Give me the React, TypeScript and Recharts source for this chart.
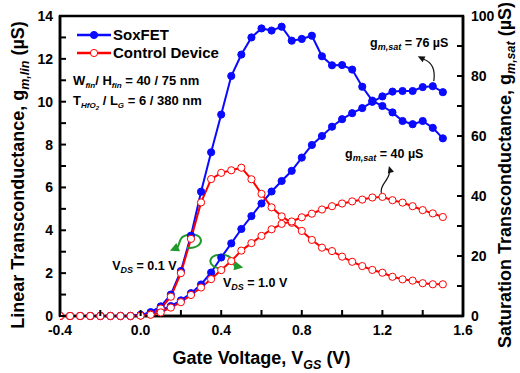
import React from 'react';
import {
  ComposedChart,
  Line,
  XAxis,
  YAxis,
  ReferenceArea,
  ReferenceDot,
  Legend,
  Label,
} from 'recharts';

const FONT = '"Liberation Sans", Arial, Helvetica, sans-serif';
const BLUE = '#0a0aff';
const RED = '#ff0000';
const GREEN = '#1f9a2a';

// Gate voltage (V)
const vgs = [
  -0.4, -0.35, -0.3, -0.25, -0.2, -0.15, -0.1, -0.05, 0, 0.05, 0.1, 0.15, 0.2,
  0.25, 0.3, 0.35, 0.4, 0.45, 0.5, 0.55, 0.6, 0.65, 0.7, 0.75, 0.8, 0.85, 0.9,
  0.95, 1.0, 1.05, 1.1, 1.15, 1.2, 1.25, 1.3, 1.35, 1.4, 1.45, 1.5,
];

// SoxFET, linear gm (uS), VDS = 0.1 V
const soxfetLin = [
  0, 0, 0, 0, 0, 0, 0, 0, 0.05, 0.18, 0.45, 1.0, 2.1, 3.75, 5.8, 7.64, 9.4,
  11.2, 12.2, 13.0, 13.42, 13.32, 13.5, 12.85, 12.93, 13.08, 12.12, 11.7, 11.71,
  11.5, 10.7, 10.05, 9.8, 9.5, 9.1, 8.95, 9.1, 8.78, 8.29,
];

// SoxFET, saturation gm (uS), VDS = 1.0 V
const soxfetSat = [
  0, 0, 0, 0, 0, 0, 0, 0, 0.3, 1.0, 2.0, 3.3, 5.2, 7.6, 10.5, 14.5, 19.5, 24.2,
  29.0, 33.3, 37.5, 41.5, 45.0, 48.4, 52.8, 57.0, 60.0, 63.1, 65.6, 67.6, 69.3,
  71.4, 73.2, 74.8, 75.0, 75.0, 76.3, 76.6, 74.6,
];

// Control device, linear gm (uS)
const controlLin = [
  0, 0, 0, 0, 0, 0, 0, 0, 0.02, 0.08, 0.35, 0.9, 2.0, 3.6, 5.3, 6.39, 6.68, 6.8,
  6.92, 6.38, 5.7, 5.07, 4.65, 4.35, 3.97, 3.55, 3.19, 3.03, 2.77, 2.53, 2.33,
  2.15, 2.02, 1.83, 1.71, 1.65, 1.53, 1.48, 1.48,
];

// Control device, saturation gm (uS)
const controlSat = [
  0, 0, 0, 0, 0, 0, 0, 0, 0.1, 0.4, 1.2, 2.8, 4.6, 7.0, 9.5, 12.3, 15.3, 18.3,
  21.8, 24.3, 26.7, 28.9, 30.7, 31.5, 32.9, 34.1, 35.5, 36.6, 37.5, 38.2, 38.8,
  39.5, 39.7, 38.6, 37.8, 36.6, 35.3, 34.2, 33.0,
];

const legendOrder = ['SoxFET', 'Control Device'];

const xTicks = [-0.4, -0.2, 0, 0.2, 0.4, 0.6, 0.8, 1.0, 1.2, 1.4, 1.6];
const xTickLabels = ['-0.4', '', '0.0', '', '0.4', '', '0.8', '', '1.2', '', '1.6'];
const leftTicks = [0, 1, 2, 3, 4, 5, 6, 7, 8, 9, 10, 11, 12, 13, 14];
const leftTickLabels = ['0', '', '2', '', '4', '', '6', '', '8', '', '10', '', '12', '', '14'];
const rightTicks = [0, 10, 20, 30, 40, 50, 60, 70, 80, 90, 100];
const rightTickLabels = ['0', '', '20', '', '40', '', '60', '', '80', '', '100'];

const data = vgs.map((v, i) => ({
  v,
  soxfetLin: soxfetLin[i],
  soxfetSat: soxfetSat[i],
  controlLin: controlLin[i],
  controlSat: controlSat[i],
}));

const txt = {
  fontFamily: FONT,
  fontWeight: 700 as const,
  fill: '#000',
};

const XTick = (props: any) => {
  const { x, y, payload } = props;
  const idx = xTicks.findIndex((t) => Math.abs(t - payload.value) < 1e-6);
  const label = idx >= 0 ? xTickLabels[idx] : '';
  return (
    <g>
      <line x1={x} x2={x} y1={y} y2={y - 6} stroke="#000" strokeWidth={2} />
      {label ? (
        <text x={x} y={y + 19} textAnchor="middle" fontSize={14} {...txt}>
          {label}
        </text>
      ) : null}
    </g>
  );
};

const LeftTick = (props: any) => {
  const { x, y, payload } = props;
  const idx = leftTicks.indexOf(payload.value);
  const label = idx >= 0 ? leftTickLabels[idx] : '';
  return (
    <g>
      <line x1={x} x2={x + 6} y1={y} y2={y} stroke="#000" strokeWidth={2} />
      {label ? (
        <text x={x - 7} y={y + 5} textAnchor="end" fontSize={14} {...txt}>
          {label}
        </text>
      ) : null}
    </g>
  );
};

const RightTick = (props: any) => {
  const { x, y, payload } = props;
  const idx = rightTicks.indexOf(payload.value);
  const label = idx >= 0 ? rightTickLabels[idx] : '';
  return (
    <g>
      <line x1={x} x2={x - 6} y1={y} y2={y} stroke="#000" strokeWidth={2} />
      {label ? (
        <text x={x + 8} y={y + 5} textAnchor="start" fontSize={14} {...txt}>
          {label}
        </text>
      ) : null}
    </g>
  );
};

const head = (tx: number, ty: number, dx: number, dy: number, len = 7, w = 3.2) => {
  const L = Math.hypot(dx, dy);
  const ux = dx / L;
  const uy = dy / L;
  const bx = tx - ux * len;
  const by = ty - uy * len;
  return `${tx},${ty} ${bx - uy * w},${by + ux * w} ${bx + uy * w},${by - ux * w}`;
};

const renderLegend = (props: any) => {
  const items = (props.payload || [])
    .filter((e: any) => legendOrder.indexOf(e.value) >= 0)
    .sort((a: any, b: any) => legendOrder.indexOf(a.value) - legendOrder.indexOf(b.value));
  return (
    <div style={{ fontFamily: FONT, fontWeight: 700, fontSize: 15, color: '#000' }}>
      {items.map((e: any, i: number) => {
        const open = e.value === 'Control Device';
        return (
          <div key={i} style={{ display: 'flex', alignItems: 'center', height: 17.7 }}>
            <svg width={34} height={12} style={{ display: 'block' }}>
              <line x1={0} y1={6} x2={34} y2={6} stroke={e.color} strokeWidth={2.5} />
              <circle
                cx={17}
                cy={6}
                r={3.6}
                fill={open ? '#fff' : e.color}
                stroke={e.color}
                strokeWidth={1}
              />
            </svg>
            <span style={{ marginLeft: 2, lineHeight: '17px' }}>{e.value}</span>
          </div>
        );
      })}
    </div>
  );
};

const sub = { fontStyle: 'italic' as const };

export default function App() {
  return (
    <div style={{ position: 'absolute', left: 0, top: 0, background: '#fff' }}>
      <ComposedChart
        width={520}
        height={373}
        data={data}
        margin={{ top: 16, right: 0, bottom: 0, left: 0 }}
      >
        <XAxis
          dataKey="v"
          type="number"
          domain={[-0.4, 1.6]}
          ticks={xTicks}
          interval={0}
          height={57}
          tickSize={0}
          tickMargin={0}
          tickLine={false}
          tick={<XTick />}
          axisLine={{ stroke: '#000', strokeWidth: 2.5 }}
          allowDataOverflow
        >
          <Label
            content={(p: any) => {
              const vb = p.viewBox || { x: 60, y: 316, width: 403, height: 57 };
              return (
                <text
                  x={vb.x + vb.width / 2}
                  y={vb.y + 48}
                  textAnchor="middle"
                  fontSize={18}
                  {...txt}
                >
                  <tspan>Gate Voltage, V</tspan>
                  <tspan dy={5} fontSize={12.5} {...sub}>
                    GS
                  </tspan>
                  <tspan dy={-5}> (V)</tspan>
                </text>
              );
            }}
          />
        </XAxis>
        <YAxis
          yAxisId="left"
          orientation="left"
          type="number"
          domain={[0, 14]}
          ticks={leftTicks}
          interval={0}
          width={60}
          tickSize={0}
          tickMargin={0}
          tickLine={false}
          tick={<LeftTick />}
          axisLine={{ stroke: '#000', strokeWidth: 2.5 }}
        >
          <Label
            content={(p: any) => {
              const vb = p.viewBox || { x: 0, y: 16, width: 60, height: 300 };
              const cx = vb.x + 24;
              const cy = vb.y + vb.height / 2 + 9;
              return (
                <text
                  transform={`translate(${cx}, ${cy}) rotate(-90)`}
                  textAnchor="middle"
                  fontSize={18}
                  {...txt}
                >
                  <tspan>Linear Transconductance, g</tspan>
                  <tspan dy={5} fontSize={12.5} {...sub}>
                    m,lin
                  </tspan>
                  <tspan dy={-5}> (µS)</tspan>
                </text>
              );
            }}
          />
        </YAxis>
        <YAxis
          yAxisId="right"
          orientation="right"
          type="number"
          domain={[0, 100]}
          ticks={rightTicks}
          interval={0}
          width={57}
          tickSize={0}
          tickMargin={0}
          tickLine={false}
          tick={<RightTick />}
          axisLine={{ stroke: '#000', strokeWidth: 2.5 }}
        >
          <Label
            content={(p: any) => {
              const vb = p.viewBox || { x: 463, y: 16, width: 57, height: 300 };
              const cx = vb.x + 48;
              const cy = vb.y + vb.height / 2 + 9;
              return (
                <text
                  transform={`translate(${cx}, ${cy}) rotate(-90)`}
                  textAnchor="middle"
                  fontSize={18}
                  {...txt}
                >
                  <tspan>Saturation Transconductance, g</tspan>
                  <tspan dy={4} fontSize={12.5} {...sub}>
                    m,sat
                  </tspan>
                  <tspan dy={-4}> (µS)</tspan>
                </text>
              );
            }}
          />
        </YAxis>

        <ReferenceArea
          yAxisId="left"
          x1={-0.4}
          x2={1.6}
          y1={0}
          y2={14}
          fill="none"
          fillOpacity={0}
          stroke="#000"
          strokeWidth={2.5}
          ifOverflow="visible"
        />

        <Line
          yAxisId="left"
          dataKey="soxfetLin"
          name="SoxFET"
          stroke={BLUE}
          strokeWidth={2}
          dot={{ r: 3.6, fill: BLUE, stroke: BLUE, strokeWidth: 1 }}
          activeDot={false}
          isAnimationActive={false}
        />
        <Line
          yAxisId="right"
          dataKey="soxfetSat"
          name="SoxFET (sat)"
          legendType="none"
          stroke={BLUE}
          strokeWidth={2}
          dot={{ r: 3.6, fill: BLUE, stroke: BLUE, strokeWidth: 1 }}
          activeDot={false}
          isAnimationActive={false}
        />
        <Line
          yAxisId="left"
          dataKey="controlLin"
          name="Control Device"
          stroke={RED}
          strokeWidth={2}
          dot={{ r: 3.6, fill: '#fff', stroke: RED, strokeWidth: 1 }}
          activeDot={false}
          isAnimationActive={false}
        />
        <Line
          yAxisId="right"
          dataKey="controlSat"
          name="Control Device (sat)"
          legendType="none"
          stroke={RED}
          strokeWidth={2}
          dot={{ r: 3.6, fill: '#fff', stroke: RED, strokeWidth: 1 }}
          activeDot={false}
          isAnimationActive={false}
        />

        {/* Device parameter text */}
        <ReferenceDot
          yAxisId="left"
          x={-0.335}
          y={10.76}
          ifOverflow="visible"
          shape={(p: any) => (
            <text x={p.cx} y={p.cy} fontSize={13} {...txt}>
              <tspan>W</tspan>
              <tspan dy={3} fontSize={8} {...sub}>fin</tspan>
              <tspan dy={-3}>/ H</tspan>
              <tspan dy={3} fontSize={8} {...sub}>fin</tspan>
              <tspan dy={-3}> = 40 / 75 nm</tspan>
            </text>
          )}
        />
        <ReferenceDot
          yAxisId="left"
          x={-0.335}
          y={9.83}
          ifOverflow="visible"
          shape={(p: any) => (
            <text x={p.cx} y={p.cy} fontSize={13} {...txt}>
              <tspan>T</tspan>
              <tspan dy={3} fontSize={8} {...sub}>HfO</tspan>
              <tspan dy={2} fontSize={6} {...sub}>2</tspan>
              <tspan dy={-5}> / L</tspan>
              <tspan dy={3} fontSize={8} {...sub}>G</tspan>
              <tspan dy={-3}> = 6 / 380 nm</tspan>
            </text>
          )}
        />

        {/* gm,sat = 76 uS label + arrow */}
        <ReferenceDot
          yAxisId="right"
          x={1.139}
          y={89.7}
          ifOverflow="visible"
          shape={(p: any) => (
            <text x={p.cx} y={p.cy} fontSize={12.5} {...txt}>
              <tspan>g</tspan>
              <tspan dy={3} fontSize={9} {...sub}>m,sat</tspan>
              <tspan dy={-3}> = 76 µS</tspan>
            </text>
          )}
        />
        <ReferenceDot
          yAxisId="right"
          x={1.45}
          y={76.6}
          ifOverflow="visible"
          shape={(p: any) => {
            const { cx, cy } = p;
            return (
              <g>
                <path
                  d={`M ${cx + 1} ${cy - 5} C ${cx + 3} ${cy - 18}, ${cx - 1} ${cy - 24}, ${cx - 9} ${cy - 27}`}
                  fill="none"
                  stroke="#111"
                  strokeWidth={1.2}
                />
                <polygon points={head(cx - 15, cy - 30, -7, -3.5)} fill="#111" />
              </g>
            );
          }}
        />

        {/* gm,sat = 40 uS label + arrow */}
        <ReferenceDot
          yAxisId="right"
          x={1.015}
          y={52.6}
          ifOverflow="visible"
          shape={(p: any) => (
            <text x={p.cx} y={p.cy} fontSize={12.5} {...txt}>
              <tspan>g</tspan>
              <tspan dy={3} fontSize={9} {...sub}>m,sat</tspan>
              <tspan dy={-3}> = 40 µS</tspan>
            </text>
          )}
        />
        <ReferenceDot
          yAxisId="right"
          x={1.2}
          y={39.7}
          ifOverflow="visible"
          shape={(p: any) => {
            const { cx, cy } = p;
            return (
              <g>
                <path
                  d={`M ${cx - 1} ${cy - 4} C ${cx - 3} ${cy - 12}, ${cx + 6} ${cy - 16}, ${cx + 7} ${cy - 24}`}
                  fill="none"
                  stroke="#111"
                  strokeWidth={1.2}
                />
                <polygon points={head(cx + 6.5, cy - 31, -0.3, -1)} fill="#111" />
              </g>
            );
          }}
        />

        {/* VDS labels */}
        <ReferenceDot
          yAxisId="left"
          x={-0.141}
          y={2.15}
          ifOverflow="visible"
          shape={(p: any) => (
            <text x={p.cx} y={p.cy} fontSize={12.5} {...txt}>
              <tspan>V</tspan>
              <tspan dy={3} fontSize={9} {...sub}>DS</tspan>
              <tspan dy={-3}> = 0.1 V</tspan>
            </text>
          )}
        />
        <ReferenceDot
          yAxisId="left"
          x={0.409}
          y={1.35}
          ifOverflow="visible"
          shape={(p: any) => (
            <text x={p.cx} y={p.cy} fontSize={12.5} {...txt}>
              <tspan>V</tspan>
              <tspan dy={3} fontSize={9} {...sub}>DS</tspan>
              <tspan dy={-3}> = 1.0 V</tspan>
            </text>
          )}
        />

        {/* Green circular arrows */}
        <ReferenceDot
          yAxisId="left"
          x={0.25}
          y={3.6}
          ifOverflow="visible"
          shape={(p: any) => {
            const { cx, cy } = p;
            return (
              <g>
                <path
                  d={`M ${cx - 4} ${cy + 9} C ${cx + 7} ${cy + 10}, ${cx + 12} ${cy + 4}, ${cx + 9} ${cy - 1} C ${cx + 6} ${cy - 6}, ${cx - 7} ${cy - 5}, ${cx - 10} ${cy} C ${cx - 12} ${cy + 3}, ${cx - 12} ${cy + 7}, ${cx - 14} ${cy + 9}`}
                  fill="none"
                  stroke={GREEN}
                  strokeWidth={2}
                />
                <polygon points={head(cx - 21, cy + 12, -1, 0.45, 9, 4.5)} fill={GREEN} />
              </g>
            );
          }}
        />
        <ReferenceDot
          yAxisId="right"
          x={0.4}
          y={19.5}
          ifOverflow="visible"
          shape={(p: any) => {
            const { cx, cy } = p;
            return (
              <g>
                <path
                  d={`M ${cx + 4} ${cy + 11} C ${cx - 7} ${cy + 12}, ${cx - 13} ${cy + 6}, ${cx - 10} ${cy + 1} C ${cx - 7} ${cy - 4}, ${cx + 6} ${cy - 4}, ${cx + 10} ${cy + 1} C ${cx + 12} ${cy + 4}, ${cx + 12} ${cy + 7}, ${cx + 14} ${cy + 9}`}
                  fill="none"
                  stroke={GREEN}
                  strokeWidth={2}
                />
                <polygon points={head(cx + 22, cy + 10, 1, 0.2, 9, 4.5)} fill={GREEN} />
              </g>
            );
          }}
        />

        <Legend
          content={renderLegend}
          layout="vertical"
          align="center"
          verticalAlign="middle"
          wrapperStyle={{ left: 77, top: 26, width: 'auto', height: 'auto' }}
        />
      </ComposedChart>
    </div>
  );
}
